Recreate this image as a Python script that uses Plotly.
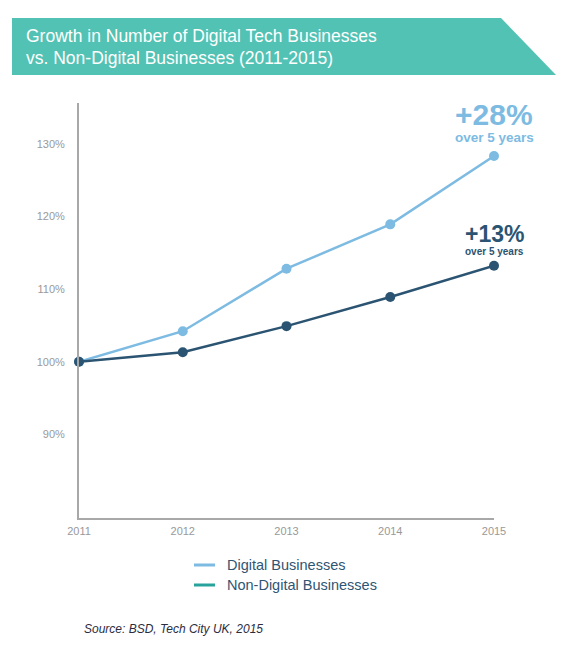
import plotly.graph_objects as go

years = [2011, 2012, 2013, 2014, 2015]
digital = [100, 104.2, 112.8, 118.9, 128.3]
non_digital = [100, 101.3, 104.9, 108.9, 113.2]
y_ticks = [90, 100, 110, 120, 130]
y_tick_labels = ["90%", "100%", "110%", "120%", "130%"]
series_names = ["Digital Businesses", "Non-Digital Businesses"]
title_lines = ["Growth in Number of Digital Tech Businesses",
               "vs. Non-Digital Businesses (2011-2015)"]

LIGHT = "#7dbbe2"
DARK = "#2b5472"
TEAL = "#27a39c"
BANNER = "#52c2b4"
FONT = "Liberation Sans, Arial, sans-serif"

W, H = 574, 660
L, R, T, B = 79, 494, 103, 518
pw, ph = R - L, B - T

def px(x):
    return (x - L) / pw

def py(y):
    return (B - y) / ph

fig = go.Figure()
fig.add_trace(go.Scatter(x=years, y=digital, mode="lines+markers", name=series_names[0],
                         line=dict(color=LIGHT, width=2.5), marker=dict(size=10, color=LIGHT),
                         showlegend=False, cliponaxis=False))
fig.add_trace(go.Scatter(x=years, y=non_digital, mode="lines+markers", name=series_names[1],
                         line=dict(color=DARK, width=2.5), marker=dict(size=10, color=DARK),
                         showlegend=False, cliponaxis=False))

shapes = []
# banner
path = f"M {px(12)},{py(18)} L {px(501)},{py(18)} L {px(556)},{py(75)} L {px(12)},{py(75)} Z"
shapes.append(dict(type="path", xref="paper", yref="paper", path=path,
                   fillcolor=BANNER, line=dict(width=0), layer="below"))
# legend lines
legend_colors = [LIGHT, TEAL]
legend_y = [565, 585]
for c, yy in zip(legend_colors, legend_y):
    shapes.append(dict(type="line", xref="paper", yref="paper",
                       x0=px(194), x1=px(215), y0=py(yy), y1=py(yy),
                       line=dict(color=c, width=3)))

annotations = []
for i, t in enumerate(title_lines):
    annotations.append(dict(text=t, xref="paper", yref="paper", x=px(24), y=py(36 + 22 * i),
                            xanchor="left", yanchor="middle", showarrow=False,
                            font=dict(family=FONT, size=17.5, color="white")))
for name, yy in zip(series_names, legend_y):
    annotations.append(dict(text=name, xref="paper", yref="paper", x=px(225), y=py(yy),
                            xanchor="left", yanchor="middle", showarrow=False,
                            font=dict(family=FONT, size=14.5, color="#2f5573")))
annotations.append(dict(text="<i>Source: BSD, Tech City UK, 2015</i>", xref="paper", yref="paper",
                        x=px(82), y=py(629), xanchor="left", yanchor="middle", showarrow=False,
                        font=dict(family=FONT, size=12, color="#2b2d3f")))

# growth labels
d_growth = round(digital[-1] - digital[0])
n_growth = round(non_digital[-1] - non_digital[0])
annotations.append(dict(text=f"<b>+{d_growth}%</b>", xref="x", yref="paper", x=years[-1], y=py(114),
                        xanchor="center", yanchor="middle", showarrow=False,
                        font=dict(family=FONT, size=30, color=LIGHT)))
annotations.append(dict(text="<b>over 5 years</b>", xref="x", yref="paper", x=years[-1], y=py(137),
                        xanchor="center", yanchor="middle", showarrow=False,
                        font=dict(family=FONT, size=13.5, color=LIGHT)))
annotations.append(dict(text=f"<b>+{n_growth}%</b>", xref="x", yref="paper", x=years[-1], y=py(234),
                        xanchor="center", yanchor="middle", showarrow=False,
                        font=dict(family=FONT, size=23, color=DARK)))
annotations.append(dict(text="<b>over 5 years</b>", xref="x", yref="paper", x=years[-1], y=py(251),
                        xanchor="center", yanchor="middle", showarrow=False,
                        font=dict(family=FONT, size=10, color=DARK)))

fig.update_layout(
    width=W, height=H,
    margin=dict(l=L, r=W - R, t=T, b=H - B, pad=0),
    paper_bgcolor="white", plot_bgcolor="white",
    shapes=shapes, annotations=annotations,
    xaxis=dict(range=[2011, 2015], tickvals=years, ticktext=[str(y) for y in years],
               showgrid=False, zeroline=False, showline=True, linecolor="#a8a8a8", linewidth=2,
               ticks="", ticklabelstandoff=2,
               tickfont=dict(family=FONT, size=11, color="#999999")),
    yaxis=dict(range=[78.5, 135.6], tickvals=y_ticks, ticktext=y_tick_labels,
               showgrid=False, zeroline=False, showline=True, linecolor="#a8a8a8", linewidth=2,
               ticks="", ticklabelstandoff=10,
               tickfont=dict(family=FONT, size=11, color="#999999")),
)

fig.write_html("out.html")
